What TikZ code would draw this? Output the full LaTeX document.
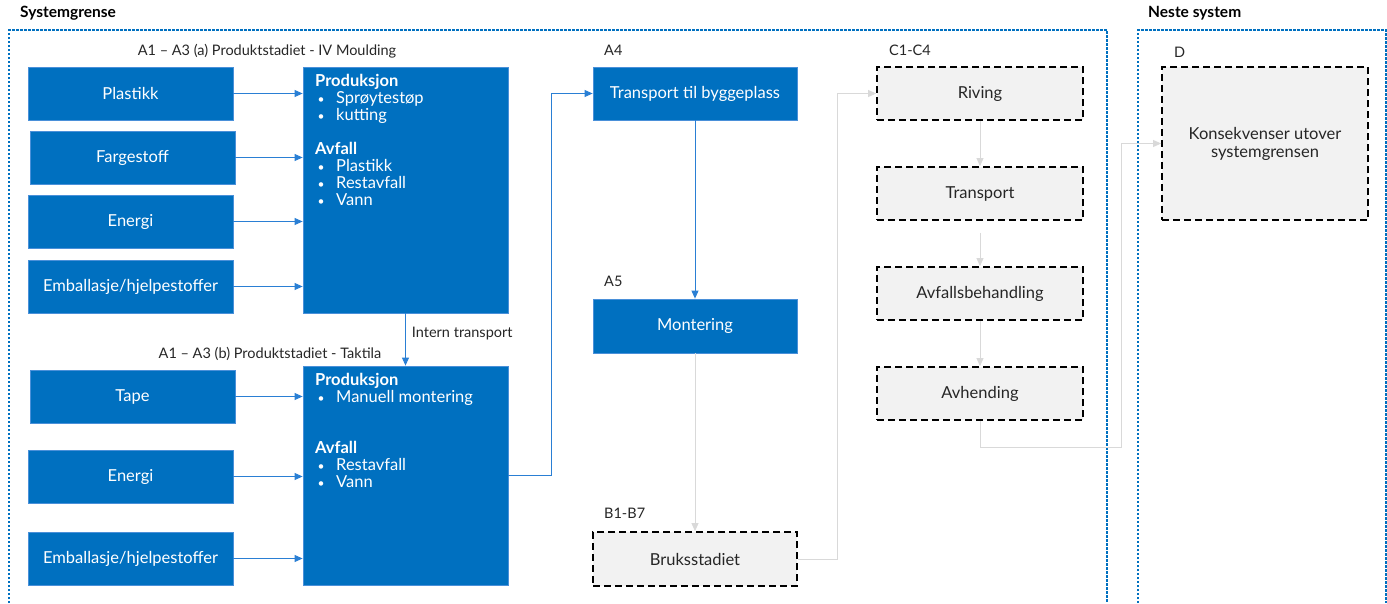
\documentclass[tikz,border=0pt]{standalone}
\usepackage{fontspec}
\setmainfont{Lato}
\usetikzlibrary{arrows.meta}
\definecolor{mblue}{HTML}{0070C0}
\definecolor{eblue}{HTML}{4A90D9}
\definecolor{cblue}{HTML}{2A7FD4}
\definecolor{gfill}{HTML}{F2F2F2}
\definecolor{garrow}{HTML}{D9D9D9}
\definecolor{dtext}{HTML}{262626}
\tikzset{
  x=1pt, y=-1pt,
  bluebox/.style={fill=mblue, draw=eblue, line width=0.8pt, text=white,
    font=\fontsize{16.5}{18}\selectfont, inner sep=0pt, minimum width=205pt, minimum height=53pt},
  graybox/.style={fill=gfill, draw=black, line width=1.8pt, dash pattern=on 7pt off 4pt,
    text=dtext, font=\fontsize{16.5}{18}\selectfont, inner sep=0pt, minimum width=206pt, minimum height=53pt, align=center},
  inner/.style={text=white, font=\fontsize{16.5}{17}\selectfont, inner sep=0pt, anchor=north west, align=left},
  lbl/.style={text=dtext, font=\fontsize{14.5}{16}\selectfont, inner sep=0pt},
  ttl/.style={text=black, font=\fontsize{15.5}{17}\selectfont\bfseries, inner sep=0pt, anchor=west},
  barrow/.style={draw=cblue, line width=0.9pt, -{Triangle[length=8pt,width=7pt]}},
  garr/.style={draw=garrow, line width=0.9pt, -{Triangle[length=8pt,width=7pt]}},
  bound/.style={draw=mblue, line width=1.3pt, dash pattern=on 2.5pt off 1.5pt}
}
\newcommand{\bul}{\makebox[21pt][l]{\hspace{2.5pt}{\fontsize{12}{12}\selectfont•}}}
\begin{document}
\begin{tikzpicture}
\useasboundingbox (0,0) rectangle (1387,603);
% boundaries
\node[ttl] (t1) at (20,13) {Systemgrense};
\node[ttl] (t2) at (1148,13) {Neste system};
\draw[bound] (9,603) -- (9,30) -- (1107,30) -- (1107,603);
\draw[bound] (1138,603) -- (1138,30) -- (1386,30) -- (1386,603);

% stage a
\node[lbl] (la) at (267,51) {A1 – A3 (a) Produktstadiet - IV Moulding};
\node[bluebox] (plast) at (130.5,93.5) {Plastikk};
\node[bluebox] (farge) at (132.5,157.5) {Fargestoff};
\node[bluebox] (energa) at (130.5,221.5) {Energi};
\node[bluebox] (emba) at (130.5,286.5) {Emballasje/hjelpestoffer};
\node[bluebox, minimum height=246pt] (biga) at (405.5,190) {};
\node[inner] (ta) at (315,74.5) {\textbf{Produksjon}\\
\bul Sprøytestøp\\
\bul kutting\\[17pt]
\textbf{Avfall}\\
\bul Plastikk\\
\bul Restavfall\\
\bul Vann};
\foreach \n in {plast,farge,energa,emba}
  \draw[barrow] (\n.east) -- (\n.east -| biga.west);

% stage b
\node[lbl] (lb) at (270,354) {A1 – A3 (b) Produktstadiet - Taktila};
\node[bluebox] (tape) at (132.5,396.5) {Tape};
\node[bluebox] (energb) at (130.5,476.5) {Energi};
\node[bluebox] (embb) at (130.5,558.5) {Emballasje/hjelpestoffer};
\node[bluebox, minimum height=219pt] (bigb) at (405.5,475.5) {};
\node[inner] (tb) at (315,373.5) {\textbf{Produksjon}\\
\bul Manuell montering\\[34pt]
\textbf{Avfall}\\
\bul Restavfall\\
\bul Vann};
\foreach \n in {tape,energb,embb}
  \draw[barrow] (\n.east) -- (\n.east -| bigb.west);

\draw[barrow] (biga.south) -- (bigb.north) node[pos=0.38, right=6pt, lbl] (it) {Intern transport};

% A4, A5, B
\node[lbl, anchor=west] (la4) at (604,50) {A4};
\node[bluebox, minimum width=204pt] (a4) at (695,93.5) {Transport til byggeplass};
\node[lbl, anchor=west] (la5) at (604,281) {A5};
\node[bluebox, minimum width=204pt, minimum height=54pt] (mont) at (695,326) {Montering};
\node[lbl, anchor=west] (lb1) at (604,513) {B1-B7};
\node[graybox, minimum width=204pt, minimum height=54pt] (bruk) at (695,559) {Bruksstadiet};

\draw[barrow] (bigb.east) -- ++(43,0) |- (a4.west);
\draw[barrow] (a4.south) -- (mont.north);
\draw[garr] (mont.south) -- (bruk.north);

% C
\node[lbl, anchor=west] (lc) at (889,50.5) {C1-C4};
\node[graybox] (riv) at (980,93.5) {Riving};
\node[graybox] (trans) at (980,193.5) {Transport};
\node[graybox] (avf) at (980,293.5) {Avfallsbehandling};
\node[graybox] (avh) at (980,393.5) {Avhending};
\draw[garr] (bruk.east) -- ++(40,0) |- (riv.west);
\draw[garr] (riv.south) -- (trans.north);
\draw[garr, shorten <=12pt] (trans.south) -- (avf.north);
\draw[garr] (avf.south) -- (avh.north);

% D
\node[lbl, anchor=west] (ld) at (1174,52) {D};
\node[graybox, minimum height=153pt] (d) at (1265,143.5) {Konsekvenser utover\\systemgrensen};
\draw[garr] (avh.south) -- ++(0,27) -| ([xshift=-40pt]d.west) -- (d.west);
\end{tikzpicture}
\end{document}
